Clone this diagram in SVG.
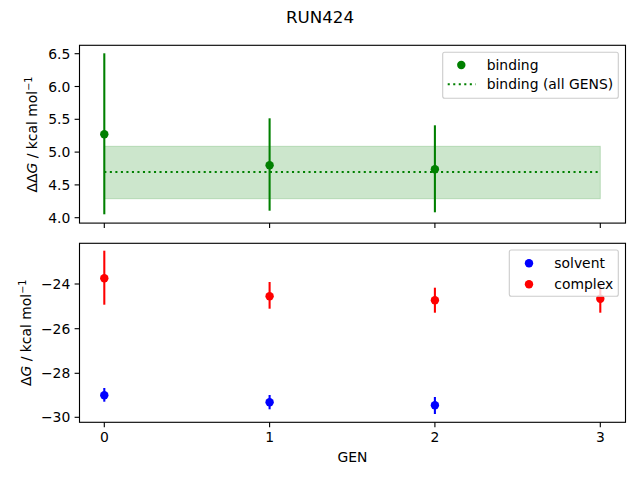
<svg xmlns="http://www.w3.org/2000/svg" width="640" height="480" viewBox="0 0 640 480">
<style>
text{font-family:"DejaVu Sans",sans-serif;font-size:13.9px;fill:#000}
.tl{text-anchor:end}
.tc{text-anchor:middle}
.spine{fill:none;stroke:#000;stroke-width:1.11}
.tick{stroke:#000;stroke-width:1.11}
.eg{stroke:#008000;stroke-width:2.08}
.er{stroke:#ff0000;stroke-width:2.08}
.eb{stroke:#0000ff;stroke-width:2.08}
.leg{fill:#fff;fill-opacity:0.8;stroke:#cccccc;stroke-width:1.11}
</style>
<rect width="640" height="480" fill="#fff"/>
<text id="title" x="320" y="22.7" class="tc" style="font-size:16.7px">RUN424</text>

<g id="top-axes">
<rect x="104.3" y="146.3" width="496" height="52.4" fill="#008000" fill-opacity="0.2" stroke="#008000" stroke-opacity="0.2" stroke-width="1"/>
<line x1="104.3" y1="172" x2="600.3" y2="172" stroke="#008000" stroke-width="2.08" stroke-dasharray="2.08,3.44"/>
<g id="binding-points">
<line class="eg" x1="104.3" y1="53.3" x2="104.3" y2="214.3"/>
<circle cx="104.3" cy="134.3" r="4.2" fill="#008000"/>
<line class="eg" x1="269.6" y1="118.3" x2="269.6" y2="210.7"/>
<circle cx="269.6" cy="165.3" r="4.2" fill="#008000"/>
<line class="eg" x1="434.9" y1="125.3" x2="434.9" y2="212.3"/>
<circle cx="434.9" cy="169.3" r="4.2" fill="#008000"/>
</g>
<rect class="spine" x="79.5" y="45.3" width="546" height="177.8"/>
<g id="top-yticks">
<line class="tick" x1="74.6" y1="53.7" x2="79.5" y2="53.7"/>
<line class="tick" x1="74.6" y1="86.5" x2="79.5" y2="86.5"/>
<line class="tick" x1="74.6" y1="119.3" x2="79.5" y2="119.3"/>
<line class="tick" x1="74.6" y1="152.1" x2="79.5" y2="152.1"/>
<line class="tick" x1="74.6" y1="184.9" x2="79.5" y2="184.9"/>
<line class="tick" x1="74.6" y1="217.7" x2="79.5" y2="217.7"/>
<text class="tl" x="70.3" y="58.8">6.5</text>
<text class="tl" x="70.3" y="91.6">6.0</text>
<text class="tl" x="70.3" y="124.4">5.5</text>
<text class="tl" x="70.3" y="157.2">5.0</text>
<text class="tl" x="70.3" y="190">4.5</text>
<text class="tl" x="70.3" y="222.8">4.0</text>
</g>
<g id="top-xticks">
<line class="tick" x1="104.3" y1="223.1" x2="104.3" y2="228"/>
<line class="tick" x1="269.6" y1="223.1" x2="269.6" y2="228"/>
<line class="tick" x1="434.9" y1="223.1" x2="434.9" y2="228"/>
<line class="tick" x1="600.3" y1="223.1" x2="600.3" y2="228"/>
</g>
<text id="top-ylabel" class="tc" transform="translate(37,134.5) rotate(-90)">ΔΔ<tspan font-style="italic">G</tspan> / kcal mol<tspan dy="-5" style="font-size:9.7px">−1</tspan></text>
<g id="top-legend">
<rect class="leg" x="442.7" y="52.3" width="175.6" height="46" rx="2"/>
<circle cx="461.3" cy="65" r="4.2" fill="#008000"/>
<text x="486.7" y="69.8">binding</text>
<line x1="447.7" y1="84.3" x2="475.7" y2="84.3" stroke="#008000" stroke-width="2.08" stroke-dasharray="2.08,3.44"/>
<text x="486.7" y="89.3">binding (all GENS)</text>
</g>
</g>

<g id="bottom-axes">
<g id="complex-points">
<line class="er" x1="104.3" y1="250.7" x2="104.3" y2="304.7"/>
<circle cx="104.3" cy="278.3" r="4.2" fill="#ff0000"/>
<line class="er" x1="269.6" y1="282" x2="269.6" y2="308.7"/>
<circle cx="269.6" cy="296.3" r="4.2" fill="#ff0000"/>
<line class="er" x1="434.9" y1="287.7" x2="434.9" y2="312.7"/>
<circle cx="434.9" cy="300.3" r="4.2" fill="#ff0000"/>
<line class="er" x1="600.3" y1="284.7" x2="600.3" y2="312.7"/>
<circle cx="600.3" cy="298.7" r="4.2" fill="#ff0000"/>
</g>
<g id="solvent-points">
<line class="eb" x1="104.3" y1="388" x2="104.3" y2="401.7"/>
<circle cx="104.3" cy="395.3" r="4.2" fill="#0000ff"/>
<line class="eb" x1="269.6" y1="395" x2="269.6" y2="409.3"/>
<circle cx="269.6" cy="402.3" r="4.2" fill="#0000ff"/>
<line class="eb" x1="434.9" y1="397" x2="434.9" y2="414"/>
<circle cx="434.9" cy="405.3" r="4.2" fill="#0000ff"/>
</g>
<rect class="spine" x="79.5" y="243.3" width="546" height="179"/>
<g id="bottom-yticks">
<line class="tick" x1="74.6" y1="284" x2="79.5" y2="284"/>
<line class="tick" x1="74.6" y1="328.7" x2="79.5" y2="328.7"/>
<line class="tick" x1="74.6" y1="373.3" x2="79.5" y2="373.3"/>
<line class="tick" x1="74.6" y1="417.3" x2="79.5" y2="417.3"/>
<text class="tl" x="70.3" y="289.1">−24</text>
<text class="tl" x="70.3" y="333.8">−26</text>
<text class="tl" x="70.3" y="378.4">−28</text>
<text class="tl" x="70.3" y="422.4">−30</text>
</g>
<g id="bottom-xticks">
<line class="tick" x1="104.3" y1="422.3" x2="104.3" y2="427.2"/>
<line class="tick" x1="269.6" y1="422.3" x2="269.6" y2="427.2"/>
<line class="tick" x1="434.9" y1="422.3" x2="434.9" y2="427.2"/>
<line class="tick" x1="600.3" y1="422.3" x2="600.3" y2="427.2"/>
<text class="tc" x="104.3" y="442">0</text>
<text class="tc" x="269.6" y="442">1</text>
<text class="tc" x="434.9" y="442">2</text>
<text class="tc" x="600.3" y="442">3</text>
</g>
<text id="xlabel" class="tc" x="352.5" y="461.5">GEN</text>
<text id="bottom-ylabel" class="tc" transform="translate(30.5,332.8) rotate(-90)">Δ<tspan font-style="italic">G</tspan> / kcal mol<tspan dy="-5" style="font-size:9.7px">−1</tspan></text>
<g id="bottom-legend">
<rect class="leg" x="509.3" y="250" width="109" height="46.3" rx="2"/>
<circle cx="529" cy="263.3" r="4.2" fill="#0000ff"/>
<text x="554.3" y="268.2">solvent</text>
<circle cx="529" cy="284.3" r="4.2" fill="#ff0000"/>
<text x="554.3" y="289.2">complex</text>
</g>
</g>
</svg>
